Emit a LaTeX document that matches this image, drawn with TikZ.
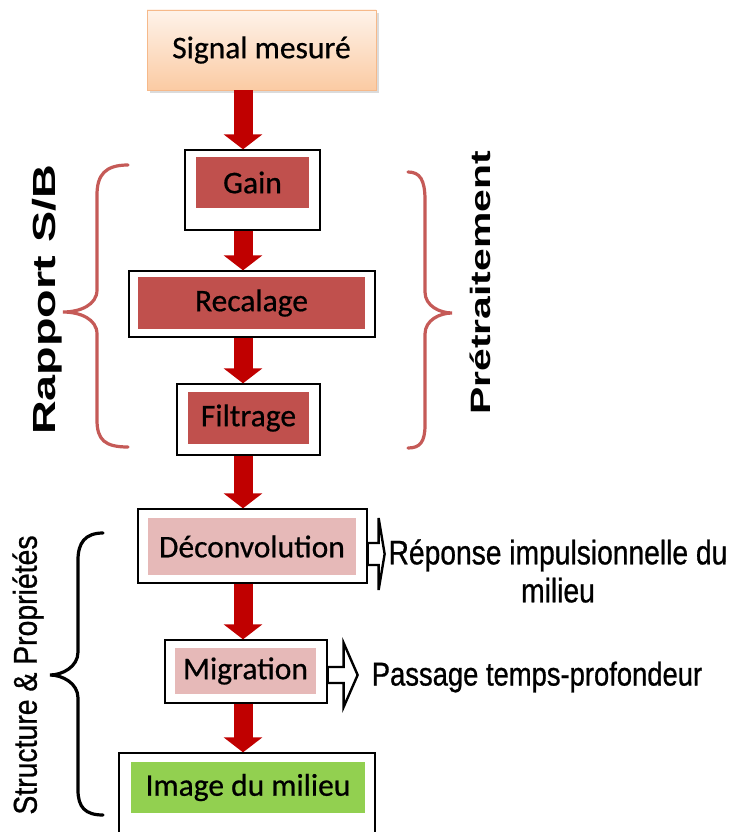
\documentclass[tikz,border=0pt]{standalone}
\usepackage{fontspec}
\setmainfont{Carlito}
\newfontfamily\boxfont[FakeBold=0.6]{Carlito}
\newfontfamily\sidefont[FakeStretch=0.83,FakeBold=0.8]{Liberation Sans}
\newfontfamily\widefont[FakeStretch=1.46]{Liberation Sans}
\newfontfamily\structfont[FakeStretch=0.86,FakeBold=0.8]{Liberation Sans}
\usetikzlibrary{arrows.meta,shadows}
\definecolor{boxred}{HTML}{C0504D}
\definecolor{boxpink}{HTML}{E6B9B8}
\definecolor{boxgreen}{HTML}{92D050}
\definecolor{arrred}{HTML}{C00000}
\definecolor{bracered}{HTML}{C55A57}
\definecolor{peachtop}{HTML}{FEF3EA}
\definecolor{peachbot}{HTML}{FBCBA3}
\definecolor{peachline}{HTML}{F6B98A}
\tikzset{
  outerbox/.style={draw=black, line width=1.3pt, fill=white, inner sep=0pt},
  innerbox/.style={inner sep=0pt, font=\boxfont\fontsize{31.5}{36}\selectfont},
  redarrow/.style={draw=arrred, line width=19pt, -{Triangle[width=38pt,length=15pt]}, arrred},
  hollow/.style={draw=black, line width=2.4pt, fill=white, line join=miter},
  brace/.style={line width=3.2pt, line cap=round},
  sidetext/.style={font=\sidefont\fontsize{34}{38}\selectfont, inner sep=0pt, align=center},
}
\begin{document}
\begin{tikzpicture}[x=1pt,y=-1pt]
\useasboundingbox (0,0) rectangle (730,832);
\clip (0,0) rectangle (730,832);
\fill[white] (0,0) rectangle (730,832);

\coordinate (axis) at (243,0);

% Signal
\node[draw=peachline, line width=0.8pt, top color=peachtop, bottom color=peachbot,
      minimum width=229pt, minimum height=80pt, inner sep=0pt,
      drop shadow={shadow xshift=3pt, shadow yshift=-3pt, fill=gray!55},
      font=\boxfont\fontsize{31.5}{36}\selectfont] (signal) at (261.5,50) {Signal mesuré};

% Gain
\node[outerbox, minimum width=135pt, minimum height=80pt] (gainO) at (252.5,190) {};
\node[innerbox, fill=boxred, minimum width=113pt, minimum height=51pt] (gain) at (252.5,182.5) {Gain};
% Recalage
\node[outerbox, minimum width=246pt, minimum height=66pt] (recO) at (252,304) {};
\node[innerbox, fill=boxred, minimum width=227pt, minimum height=52pt] (rec) at (251.5,303) {Recalage};
% Filtrage
\node[outerbox, minimum width=143pt, minimum height=71pt] (filO) at (248.5,419.5) {};
\node[innerbox, fill=boxred, minimum width=121pt, minimum height=52pt] (fil) at (248.5,418) {Filtrage};
% Deconvolution
\node[outerbox, minimum width=229pt, minimum height=74pt] (decO) at (252.5,546) {};
\node[innerbox, fill=boxpink, minimum width=208pt, minimum height=57pt] (dec) at (252,546.5) {Déconvolution};
% Migration
\node[outerbox, minimum width=162pt, minimum height=63pt] (migO) at (246,671.5) {};
\node[innerbox, fill=boxpink, minimum width=141pt, minimum height=46pt] (mig) at (245.5,671) {Migration};
% Image
\node[outerbox, minimum width=256pt, minimum height=110pt] (imgO) at (247,808) {};
\node[innerbox, fill=boxgreen, minimum width=234pt, minimum height=51pt] (img) at (248,787.5) {Image du milieu};

% red arrows
\draw[redarrow] (signal.south -| axis) -- (gainO.north -| axis);
\draw[redarrow] (gainO.south -| axis) -- (recO.north -| axis);
\draw[redarrow] (recO.south -| axis) -- (filO.north -| axis);
\draw[redarrow] (filO.south -| axis) -- (decO.north -| axis);
\draw[redarrow] (decO.south -| axis) -- (migO.north -| axis);
\draw[redarrow] (migO.south -| axis) -- (imgO.north -| axis);

% hollow arrows
\draw[hollow] (decO.east) ++(0,-3) -- ++(11,0) -- ++(0,-25) -- ++(6,36) -- ++(-6,36) -- ++(0,-25) -- ++(-11,0) -- cycle;
\draw[hollow] (migO.east) ++(0,-4.5) -- ++(16,0) -- ++(0,-24) -- ++(14,32) -- ++(-14,32) -- ++(0,-24) -- ++(-16,0) -- cycle;

% side texts
\node[sidetext] (resp) at (558,571) {Réponse impulsionnelle du\\milieu};
\node[sidetext, font=\sidefont\fontsize{33}{37}\selectfont] (pass) at (537,677) {Passage temps-profondeur};

% rotated labels
\node[rotate=90, inner sep=0pt, font=\widefont\bfseries\fontsize{32}{38}\selectfont] (rap) at (47,300) {Rapport S/B};
\node[rotate=90, inner sep=0pt, font=\widefont\bfseries\fontsize{28}{34}\selectfont] (pre) at (480,283) {Prétraitement};
\node[rotate=90, inner sep=0pt, font=\structfont\fontsize{33}{38}\selectfont] (str) at (28,675) {Structure \& Propriétés};

% braces
\draw[brace, bracered] (128,165) .. controls (105,165) and (97,175) .. (97,195) -- (97,290)
   .. controls (97,305) and (80,312) .. (63,312) .. controls (80,312) and (97,319) .. (97,334)
   -- (97,420) .. controls (97,440) and (105,447) .. (128,447);
\draw[brace, bracered] (408,172) .. controls (420,172) and (425,180) .. (425,200) -- (425,292)
   .. controls (425,306) and (440,313) .. (452,313) .. controls (440,313) and (425,320) .. (425,334)
   -- (425,425) .. controls (425,442) and (420,448) .. (408,448);
\draw[brace, black] (103,533) .. controls (85,533) and (78,543) .. (78,560) -- (78,652)
   .. controls (78,667) and (62,675) .. (50,675) .. controls (62,675) and (78,683) .. (78,698)
   -- (78,790) .. controls (78,807) and (85,815) .. (103,815);
\end{tikzpicture}
\end{document}
